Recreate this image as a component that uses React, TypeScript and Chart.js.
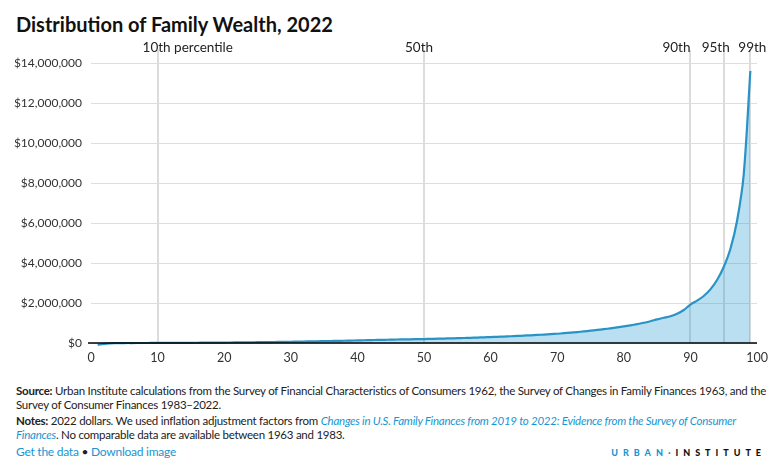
import React, { useEffect, useRef } from "react";
import { Chart, registerables } from "chart.js";

Chart.register(...registerables);

const percentiles: number[] = [
  1, 2, 3, 4, 5, 6, 7, 8, 9, 10,
  11, 12, 13, 14, 15, 16, 17, 18, 19, 20,
  21, 22, 23, 24, 25, 26, 27, 28, 29, 30,
  31, 32, 33, 34, 35, 36, 37, 38, 39, 40,
  41, 42, 43, 44, 45, 46, 47, 48, 49, 50,
  51, 52, 53, 54, 55, 56, 57, 58, 59, 60,
  61, 62, 63, 64, 65, 66, 67, 68, 69, 70,
  71, 72, 73, 74, 75, 76, 77, 78, 79, 80,
  81, 82, 83, 84, 85, 86, 87, 88, 89, 90,
  91, 92, 93, 94, 95, 96, 97, 98, 99,
];

const wealth: number[] = [
  -90000, -40000, -20000, -10000, -5000, -2000, 0, 500, 1500, 3000,
  4500, 6000, 7500, 9000, 11000, 13000, 15000, 17500, 20000, 23000,
  26000, 29000, 32000, 36000, 40000, 44000, 48000, 53000, 58000, 63000,
  68000, 74000, 80000, 86000, 92000, 99000, 106000, 113000, 121000, 129000,
  137000, 145000, 153000, 160000, 167000, 174000, 180000, 186000, 192000, 198000,
  206000, 214000, 222000, 231000, 240000, 250000, 260000, 271000, 283000, 295000,
  308000, 322000, 337000, 352000, 368000, 385000, 403000, 422000, 442000, 463000,
  490000, 518000, 548000, 580000, 615000, 652000, 692000, 735000, 780000, 830000,
  885000, 945000, 1010000, 1090000, 1180000, 1260000, 1340000, 1460000, 1650000, 1920000,
  2120000, 2350000, 2680000, 3150000, 3800000, 4700000, 6100000, 8400000, 13600000,
];

const markerPercentiles: number[] = [10, 50, 90, 95, 99];
const markerLabels: string[] = ["10th", "50th", "90th", "95th", "99th"];
const markerSuffix: string[] = [" percentile", "", "", "", ""];

const yTicks: number[] = [0, 2000000, 4000000, 6000000, 8000000, 10000000, 12000000, 14000000];
const xTicks: number[] = [0, 10, 20, 30, 40, 50, 60, 70, 80, 90, 100];

const FONT = "Lato, 'Noto Sans', sans-serif";

const markerPlugin = {
  id: "markers",
  beforeDatasetsDraw(chart: any) {
    const { ctx, chartArea, scales } = chart;
    const x = scales.x;
    ctx.save();
    ctx.strokeStyle = "#dcdcdc";
    ctx.lineWidth = 2;
    markerPercentiles.forEach((p) => {
      const px = Math.round(x.getPixelForValue(p));
      ctx.beginPath();
      ctx.moveTo(px, chartArea.top - 13);
      ctx.lineTo(px, chartArea.bottom);
      ctx.stroke();
    });
    ctx.restore();
  },
  afterDatasetsDraw(chart: any) {
    const { ctx, chartArea, scales } = chart;
    const x = scales.x;
    const y = scales.y;
    ctx.save();
    const y0 = y.getPixelForValue(0);
    ctx.strokeStyle = "#000";
    ctx.lineWidth = 1.6;
    ctx.beginPath();
    ctx.moveTo(chartArea.left - 3, y0);
    ctx.lineTo(chartArea.right, y0);
    ctx.stroke();

    ctx.font = `13.5px ${FONT}`;
    ctx.fillStyle = "#222";
    ctx.textBaseline = "middle";
    const offsets = [-1, -5, -14, -8, 2];
    markerPercentiles.forEach((p, i) => {
      const px = x.getPixelForValue(p) + offsets[i];
      const w = ctx.measureText(markerLabels[i]).width;
      ctx.textAlign = "left";
      ctx.fillText(markerLabels[i] + markerSuffix[i], px - w / 2, chartArea.top - 15);
    });
    ctx.restore();
  },
};

function WealthChart() {
  const ref = useRef<HTMLCanvasElement | null>(null);
  useEffect(() => {
    if (!ref.current) return;
    const points = percentiles.map((p, i) => ({ x: p, y: wealth[i] }));
    const chart = new Chart(ref.current, {
      type: "line",
      data: {
        datasets: [
          {
            data: points,
            borderColor: "#2a93c6",
            borderWidth: 2.2,
            backgroundColor: "rgba(22,150,210,0.3)",
            fill: "origin",
            pointRadius: 0,
            tension: 0.3,
            clip: false as any,
          },
        ],
      },
      options: {
        animation: false,
        responsive: false,
        maintainAspectRatio: false,
        layout: { padding: { top: 28, right: 23, left: 0, bottom: 0 } },
        plugins: {
          legend: { display: false },
          tooltip: { enabled: false },
          title: { display: false },
        },
        scales: {
          x: {
            type: "linear",
            min: 0,
            max: 100,
            afterBuildTicks: (s: any) => {
              s.ticks = xTicks.map((v) => ({ value: v }));
            },
            afterFit: (s: any) => {
              s.height = 32;
            },
            grid: { display: false, drawTicks: false },
            border: { display: false },
            ticks: {
              padding: 7,
              color: "#333",
              font: { family: FONT, size: 12.5 },
              maxRotation: 0,
              autoSkip: false,
              callback: (v: any) => String(v),
            },
          },
          y: {
            type: "linear",
            min: 0,
            max: 14000000,
            afterBuildTicks: (s: any) => {
              s.ticks = yTicks.map((v) => ({ value: v }));
            },
            afterFit: (s: any) => {
              s.width = 91;
            },
            grid: { color: "#dedede", lineWidth: 1, drawTicks: false },
            border: { display: false },
            ticks: {
              padding: 9,
              color: "#333",
              font: { family: FONT, size: 12 },
              callback: (v: any) => "$" + Number(v).toLocaleString("en-US"),
            },
          },
        },
      },
      plugins: [markerPlugin],
    });
    return () => chart.destroy();
  }, []);
  return <canvas ref={ref} width={780} height={340} style={{ display: "block" }} />;
}

export default function App() {
  const foot: React.CSSProperties = {
    position: "absolute",
    left: 16,
    fontFamily: FONT,
    fontSize: 11.5,
    color: "#222",
    whiteSpace: "nowrap",
    lineHeight: "14px",
    letterSpacing: -0.25,
  };
  const link: React.CSSProperties = { color: "#1696d2", fontStyle: "italic" };
  return (
    <div
      style={{
        position: "fixed",
        left: 0,
        top: 0,
        width: 780,
        height: 466,
        background: "#fff",
        overflow: "hidden",
      }}
    >
      <div
        style={{
          position: "absolute",
          left: 16,
          top: 12,
          fontFamily: FONT,
          fontWeight: 700,
          fontSize: 20,
          color: "#111",
          whiteSpace: "nowrap",
        }}
      >
        Distribution of Family Wealth, 2022
      </div>
      <div style={{ position: "absolute", left: 0, top: 35 }}>
        <WealthChart />
      </div>
      <div style={{ ...foot, top: 384 }}>
        <b>Source:</b> Urban Institute calculations from the Survey of Financial Characteristics of Consumers 1962, the Survey of Changes in Family Finances 1963, and the
        <br />
        Survey of Consumer Finances 1983–2022.
      </div>
      <div style={{ ...foot, top: 414 }}>
        <b>Notes:</b> 2022 dollars. We used inflation adjustment factors from{" "}
        <span style={link}>Changes in U.S. Family Finances from 2019 to 2022: Evidence from the Survey of Consumer</span>
        <br />
        <span style={link}>Finances</span>. No comparable data are available between 1963 and 1983.
      </div>
      <div style={{ ...foot, top: 445, color: "#1696d2", fontSize: 12 }}>
        Get the data <span style={{ color: "#222" }}>•</span> Download image
      </div>
      <div
        style={{
          position: "absolute",
          right: 14,
          top: 447,
          fontFamily: FONT,
          fontWeight: 900,
          fontSize: 9,
          letterSpacing: 5,
          whiteSpace: "nowrap",
        }}
      >
        <span style={{ color: "#1696d2" }}>URBAN</span>
        <span style={{ color: "#1696d2" }}>·</span>
        <span style={{ color: "#111" }}>INSTITUTE</span>
      </div>
    </div>
  );
}
